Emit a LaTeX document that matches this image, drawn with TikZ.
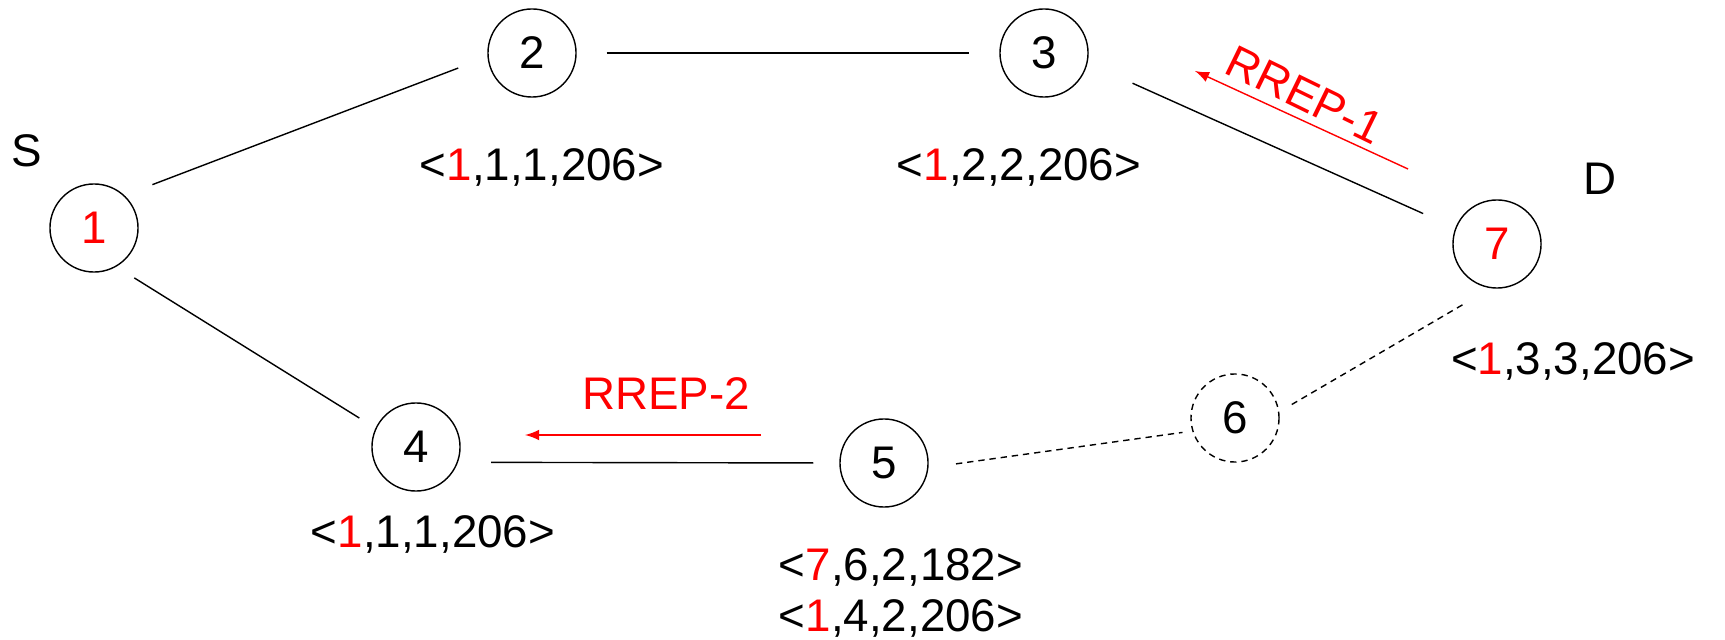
\documentclass[tikz,border=0pt]{standalone}
\usepackage{fontspec}
\setmainfont{Liberation Sans}
\usepackage{tikz}
\usetikzlibrary{arrows}
\tikzstyle{host} = [draw, circle, minimum size=0.88cm, inner sep=0pt]
\tikzstyle{link} = [shorten >=8.5pt, shorten <=8.5pt]
\tikzstyle{weak} = [dash pattern=on 1.8pt off 1.4pt]
\tikzstyle{reply} = [red, ->, >=latex]

\begin{document}
\begin{tikzpicture}[x=0.01cm, y=-0.01cm, font=\fontsize{13}{15}\selectfont]
\useasboundingbox (0,0) rectangle (1725,640);
\node[host] (n1) at (94,228) {\textcolor{red}{1}};
\node[host] (n2) at (532,53) {2};
\node[host] (n3) at (1044,53) {3};
\node[host] (n4) at (416,447) {4};
\node[host] (n5) at (884,463) {5};
\node[host, weak] (n6) at (1235,418) {6};
\node[host] (n7) at (1497,244) {\textcolor{red}{7}};
\node (src) at (27,151) {S};
\node (dst) at (1600,179) {D};
% links, ends kept clear of the circles
\draw[link, shorten >=8.9pt] (n1.47) -- (n2.185);
\draw[link] (n2) -- (n3);
\draw[link, shorten <=14pt, shorten >=10pt] (n3.-13) -- (n7.159);
\draw[link, shorten <=6pt, shorten >=5.4pt] (n1.-60) -- (n4.155);
\draw[link, shorten <=9.4pt, shorten >=7.4pt] (n4.-20) -- (n5.180);
\draw[link, weak, shorten <=7.9pt, shorten >=2.8pt] (n5.-6) -- (n6.197);
\draw[link, weak, shorten <=4.1pt, shorten >=8.7pt] (n6.8) -- (n7.262);
\node (t2) at (542,167) {<\textcolor{red}{1},1,1,206>};
\node (t3) at (1019,167) {<\textcolor{red}{1},2,2,206>};
\node (t7) at (1573,361) {<\textcolor{red}{1},3,3,206>};
\node (t4) at (433,534) {<\textcolor{red}{1},1,1,206>};
\node (t5a) at (901,567) {<\textcolor{red}{7},6,2,182>};
\node (t5b) at (901,618) {<\textcolor{red}{1},4,2,206>};
% route replies
\coordinate (r1a) at (1408,169);
\coordinate (r1b) at (1195,71);
\draw[reply] (r1a) -- (r1b);
\node[red, rotate=-26] (rrep1) at (1305,95) {RREP-1};
\coordinate (r2a) at (761,435);
\coordinate (r2b) at (525,435);
\draw[reply] (r2a) -- (r2b);
\node[red] (rrep2) at (666,394) {RREP-2};
\end{tikzpicture}
\end{document}
